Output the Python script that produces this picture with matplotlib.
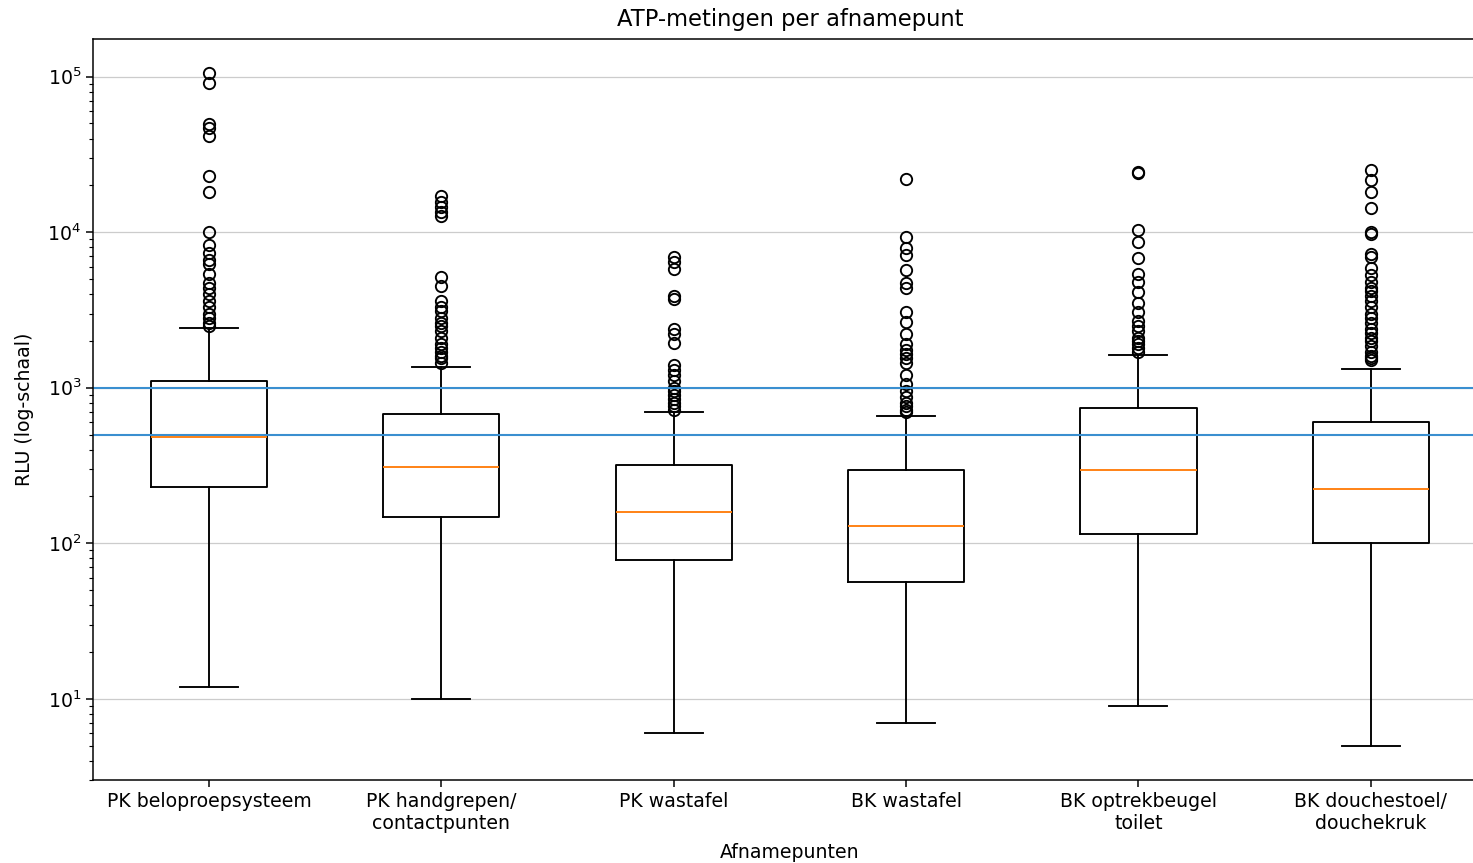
import matplotlib
matplotlib.use("Agg")
import matplotlib.pyplot as plt

# the reference looks like a default-style figure shown ~1.36x larger
S = 1.36
plt.rcParams['font.size'] = 10 * S
plt.rcParams['axes.linewidth'] = 0.8 * S
plt.rcParams['ytick.major.size'] = 3.5 * S
plt.rcParams['ytick.minor.size'] = 2 * S
plt.rcParams['xtick.major.size'] = 3.5 * S
plt.rcParams['ytick.major.width'] = 0.8 * S
plt.rcParams['ytick.minor.width'] = 0.6 * S
plt.rcParams['xtick.major.width'] = 0.8 * S

labels = ["PK beloproepsysteem", "PK handgrepen/\ncontactpunten", "PK wastafel",
          "BK wastafel", "BK optrekbeugel\ntoilet", "BK douchestoel/\ndouchekruk"]

# box statistics (RLU)
whis_low = [12, 10, 6, 7, 9, 5]
q1 = [231, 148, 78, 56.5, 115, 100]
median = [484, 310, 160, 130, 297, 224]
q3 = [1110, 681, 320, 297, 743, 604]
whis_high = [2430, 1365, 702, 660, 1630, 1325]

fliers = [
    [106000, 91500, 49900, 47000, 41800, 23100, 18200, 10100, 8300, 7300, 6600,
     6200, 5400, 4700, 4400, 4000, 3600, 3300, 3000, 2800, 2600, 2500],
    [17000, 15700, 14600, 13500, 12800, 5180, 4500, 3600, 3300, 3100, 2800, 2600,
     2500, 2300, 2100, 1900, 1800, 1700, 1600, 1550, 1450],
    [6900, 6400, 5800, 3900, 3700, 2400, 2200, 1950, 1400, 1300, 1200, 1100, 1000,
     950, 900, 850, 800, 760, 720],
    [22100, 9350, 7930, 7180, 5740, 4740, 4400, 3050, 2640, 2210, 1900, 1750, 1650,
     1550, 1450, 1200, 1050, 950, 870, 800, 760, 720, 700],
    [24500, 24000, 10400, 8600, 6800, 5350, 4800, 4150, 3500, 3050, 2700, 2500,
     2300, 2100, 2000, 1900, 1800, 1700],
    [25200, 21800, 18200, 14200, 10000, 9700, 7200, 6900, 5900, 5300, 4800, 4400,
     4200, 3900, 3600, 3300, 3000, 2800, 2600, 2400, 2250, 2100, 2000, 1850, 1700,
     1600, 1550, 1500],
]

thresholds = [1000, 500]

stats = []
for i in range(len(labels)):
    stats.append({
        "label": labels[i],
        "whislo": whis_low[i],
        "q1": q1[i],
        "med": median[i],
        "q3": q3[i],
        "whishi": whis_high[i],
        "fliers": fliers[i],
    })

fig = plt.figure(figsize=(14.73, 8.63), dpi=100)
# the right edge of the axes falls just outside the picture, as in the reference
ax = fig.add_axes([0.063, 0.096, 0.9465, 0.859])

lw = 1.0 * S
ax.bxp(stats, showfliers=True,
       flierprops=dict(marker='o', markersize=6 * S, markerfacecolor='none',
                       markeredgecolor='black', markeredgewidth=lw),
       boxprops=dict(linewidth=lw), whiskerprops=dict(linewidth=lw),
       capprops=dict(linewidth=lw), medianprops=dict(color='C1', linewidth=lw))

for t in thresholds:
    ax.axhline(t, color='#3a8fd0', linewidth=1.5)

ax.set_yscale('log')
ax.set_ylim(3.0, 175000)
ax.grid(True, axis='y', color='#cccccc', linewidth=0.9)
ax.set_axisbelow(True)

ax.set_title("ATP-metingen per afnamepunt", fontsize=12 * S, pad=9)
ax.set_xlabel("Afnamepunten", labelpad=7.5)
ax.set_ylabel("RLU (log-schaal)", labelpad=10)

fig.savefig("out.png", dpi=100)
